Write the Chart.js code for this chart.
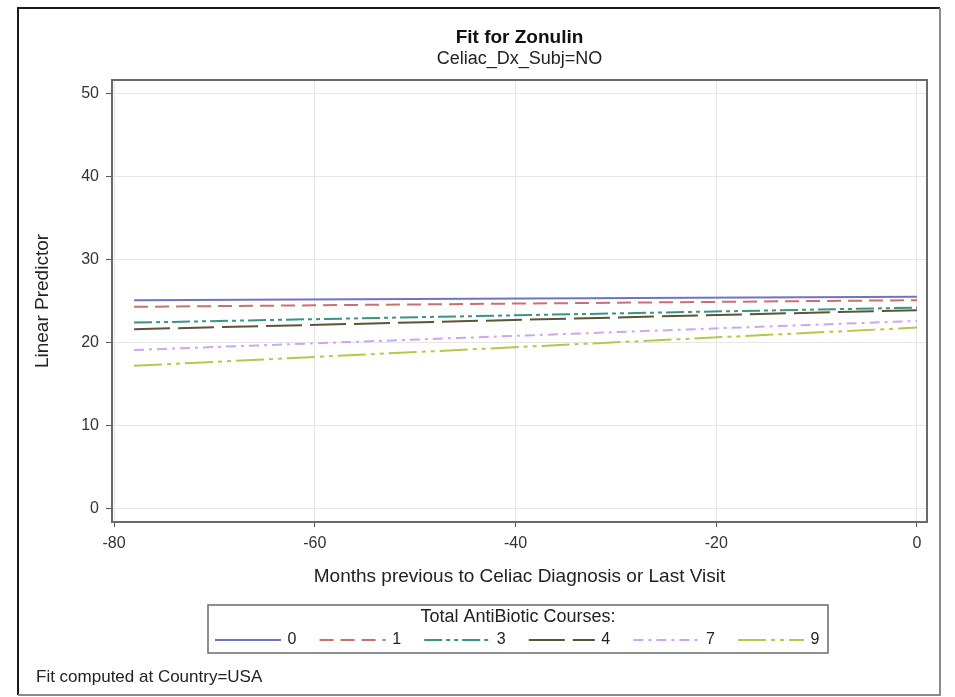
<!DOCTYPE html>
<html>
<head>
<meta charset="utf-8">
<script src="https://cdn.jsdelivr.net/npm/chart.js@4/dist/chart.umd.min.js"></script>
<style>
  html, body { margin: 0; padding: 0; background: #fff; }
  #wrap { width: 955px; height: 697px; position: relative; }
</style>
</head>
<body>
<div id="wrap"><canvas id="c" width="955" height="697"></canvas></div>
<script>
// Fitted linear predictor of Zonulin by number of antibiotic courses
const months = [-78, 0];
const courses = ['0', '1', '3', '4', '7', '9'];
const fit0 = [25.1, 25.5];
const fit1 = [24.3, 25.1];
const fit3 = [22.4, 24.2];
const fit4 = [21.6, 23.9];
const fit7 = [19.1, 22.6];
const fit9 = [17.2, 21.8];
const xTicks = [-80, -60, -40, -20, 0];
const yTicks = [0, 10, 20, 30, 40, 50];

const titleText = 'Fit for Zonulin';
const subtitleText = 'Celiac_Dx_Subj=NO';
const xTitle = 'Months previous to Celiac Diagnosis or Last Visit';
const yTitle = 'Linear Predictor';
const legendTitle = 'Total AntiBiotic Courses:';
const footnote = 'Fit computed at Country=USA';

const FONT = '"Liberation Sans", Arial, Helvetica, sans-serif';

const series = [fit0, fit1, fit3, fit4, fit7, fit9];
const lineColors = ['#6f73c8', '#c8726c', '#3a9484', '#5c5436', '#cfa6ee', '#b9c64e'];
const lineDashes = [[], [14, 7], [18, 4, 4, 4, 4, 4], [36, 8], [10, 5, 3, 5], [28, 5, 4, 5, 4, 5]];

const datasets = courses.map((c, i) => ({
  label: c,
  data: months.map((m, j) => ({ x: m, y: series[i][j] })),
  borderColor: lineColors[i],
  borderDash: lineDashes[i],
  borderWidth: 2,
  pointRadius: 0,
  fill: false,
  tension: 0
}));

// Frame, titles, legend box and footnote drawn around the plot
const decorations = {
  id: 'decorations',
  afterDatasetsDraw(chart) {
    const ctx = chart.ctx;
    const a = chart.chartArea;
    ctx.save();
    ctx.strokeStyle = '#6a6a6a';
    ctx.lineWidth = 2;
    ctx.setLineDash([]);
    ctx.strokeRect(a.left, a.top, a.right - a.left, a.bottom - a.top);
    ctx.restore();
  },
  afterDraw(chart) {
    const ctx = chart.ctx;
    const a = chart.chartArea;
    ctx.save();
    // outer border
    ctx.setLineDash([]);
    ctx.lineWidth = 2;
    ctx.strokeStyle = '#1a1a1a';
    ctx.beginPath();
    ctx.moveTo(18, 695); ctx.lineTo(18, 8); ctx.lineTo(940, 8);
    ctx.stroke();
    ctx.strokeStyle = '#8a8a8a';
    ctx.beginPath();
    ctx.moveTo(940, 8); ctx.lineTo(940, 695); ctx.lineTo(18, 695);
    ctx.stroke();

    // titles
    const cx = (a.left + a.right) / 2;
    ctx.fillStyle = '#111';
    ctx.textAlign = 'center';
    ctx.textBaseline = 'middle';
    ctx.font = 'bold 19px ' + FONT;
    ctx.fillText(titleText, cx, 38);
    ctx.font = '18px ' + FONT;
    ctx.fillStyle = '#222';
    ctx.fillText(subtitleText, cx, 59);

    // axis titles
    ctx.font = '19px ' + FONT;
    ctx.fillText(xTitle, cx, 577);
    ctx.save();
    ctx.translate(43, (a.top + a.bottom) / 2);
    ctx.rotate(-Math.PI / 2);
    ctx.fillText(yTitle, 0, 0);
    ctx.restore();

    // legend box
    const bx = 208, by = 605, bw = 620, bh = 48;
    ctx.strokeStyle = '#6a6a6a';
    ctx.lineWidth = 1.5;
    ctx.strokeRect(bx, by, bw, bh);
    ctx.fillStyle = '#222';
    ctx.font = '18px ' + FONT;
    ctx.fillText(legendTitle, bx + bw / 2, 617);
    const rowY = 640;
    const step = 104.6;
    ctx.font = '16px ' + FONT;
    chart.data.datasets.forEach((ds, i) => {
      const x0 = 215 + i * step;
      ctx.strokeStyle = ds.borderColor;
      ctx.lineWidth = 2;
      ctx.setLineDash(ds.borderDash);
      ctx.beginPath();
      ctx.moveTo(x0, rowY);
      ctx.lineTo(x0 + 66, rowY);
      ctx.stroke();
      ctx.setLineDash([]);
      ctx.fillStyle = '#222';
      ctx.textAlign = 'center';
      ctx.fillText(ds.label, x0 + 77, rowY);
    });

    // footnote
    ctx.textAlign = 'left';
    ctx.font = '17px ' + FONT;
    ctx.fillStyle = '#222';
    ctx.fillText(footnote, 36, 677);
    ctx.restore();
  }
};

new Chart(document.getElementById('c'), {
  type: 'line',
  data: { datasets },
  options: {
    responsive: false,
    animation: false,
    layout: { padding: { left: 0, top: 80, right: 28, bottom: 0 } },
    plugins: {
      legend: { display: false },
      title: { display: false },
      tooltip: { enabled: false }
    },
    scales: {
      x: {
        type: 'linear',
        min: -80.2,
        max: 1,
        afterBuildTicks: s => { s.ticks = xTicks.map(v => ({ value: v })); },
        afterFit: s => { s.height = 175; },
        grid: { color: '#e6e6e6', tickColor: '#555', tickLength: 5, lineWidth: 1 },
        border: { display: false },
        ticks: { padding: 7, color: '#333', font: { family: FONT, size: 16 }, maxRotation: 0 }
      },
      y: {
        type: 'linear',
        min: -1.6,
        max: 51.6,
        afterBuildTicks: s => { s.ticks = yTicks.map(v => ({ value: v })); },
        afterFit: s => { s.width = 112; },
        grid: { color: '#e6e6e6', tickColor: '#555', tickLength: 6, lineWidth: 1 },
        border: { display: false },
        ticks: { padding: 7, color: '#333', font: { family: FONT, size: 16 } }
      }
    }
  },
  plugins: [decorations]
});
</script>
</body>
</html>
